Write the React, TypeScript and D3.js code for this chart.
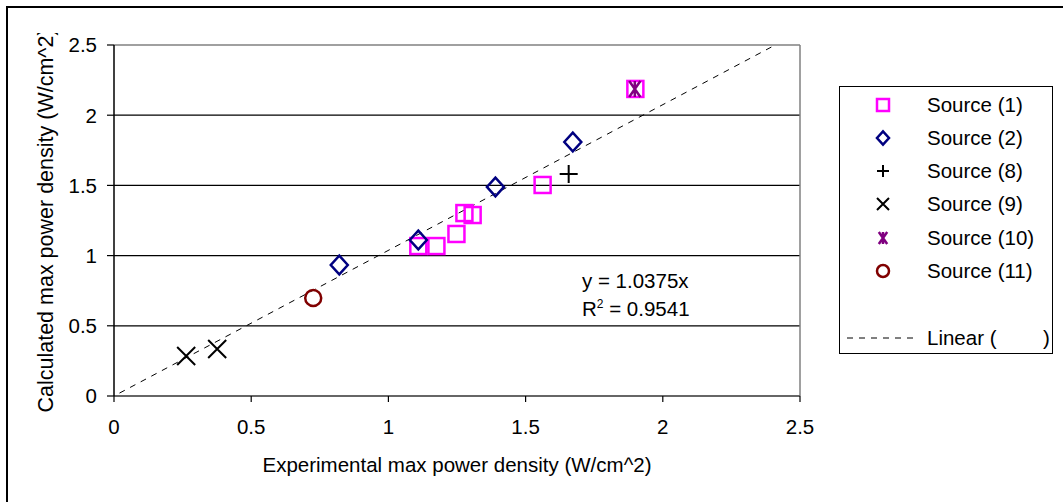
import React from "react";
import * as d3 from "d3";

const s1X = [1.9, 1.562, 1.277, 1.307, 1.248, 1.109, 1.175];
const s1Y = [2.187, 1.503, 1.303, 1.289, 1.154, 1.068, 1.068];
const s2X = [0.821, 1.109, 1.39, 1.672];
const s2Y = [0.933, 1.111, 1.489, 1.809];
const s8X = [1.657];
const s8Y = [1.581];
const s9X = [0.263, 0.376];
const s9Y = [0.285, 0.335];
const s10X = [1.898];
const s10Y = [2.187];
const s11X = [0.726];
const s11Y = [0.698];
const xTicks = [0, 0.5, 1, 1.5, 2, 2.5];
const yTicks = [0, 0.5, 1, 1.5, 2, 2.5];
const slope = 1.0375;
const legendLabels = ["Source (1)", "Source (2)", "Source (8)", "Source (9)", "Source (10)", "Source (11)"];

const FONT = "'Liberation Sans', Arial, sans-serif";
const FS = 20.5;
const W = 1063, H = 502;
const L = 114, R = 800, T = 45, B = 396;

type Kind = "square" | "diamond" | "plus" | "x" | "star" | "circle";

function Marker({ kind, cx, cy, s }: { kind: Kind; cx: number; cy: number; s: number }) {
  const h = s / 2;
  if (kind === "square")
    return <rect x={cx - h} y={cy - h} width={s} height={s} fill="none" stroke="#FF00FF" strokeWidth={2.5} />;
  if (kind === "diamond")
    return (
      <path
        d={`M${cx},${cy - h * 1.1}L${cx + h},${cy}L${cx},${cy + h * 1.1}L${cx - h},${cy}Z`}
        fill="none"
        stroke="#000080"
        strokeWidth={2.5}
      />
    );
  if (kind === "plus")
    return (
      <path d={`M${cx - h},${cy}H${cx + h}M${cx},${cy - h}V${cy + h}`} stroke="#000" strokeWidth={2} fill="none" />
    );
  if (kind === "x")
    return (
      <path
        d={`M${cx - h},${cy - h}L${cx + h},${cy + h}M${cx + h},${cy - h}L${cx - h},${cy + h}`}
        stroke="#000"
        strokeWidth={2}
        fill="none"
      />
    );
  if (kind === "star")
    return (
      <path
        d={`M${cx - h * 0.7},${cy - h}L${cx + h * 0.7},${cy + h}M${cx + h * 0.7},${cy - h}L${cx - h * 0.7},${cy + h}M${cx},${cy - h}V${cy + h}`}
        stroke="#800080"
        strokeWidth={2.5}
        fill="none"
      />
    );
  return <circle cx={cx} cy={cy} r={h} fill="none" stroke="#800000" strokeWidth={2.5} />;
}

export default function App() {
  const x = d3.scaleLinear().domain([0, 2.5]).range([L, R]);
  const y = d3.scaleLinear().domain([0, 2.5]).range([B, T]);

  const series: { kind: Kind; xs: number[]; ys: number[]; size: number }[] = [
    { kind: "square", xs: s1X, ys: s1Y, size: 16 },
    { kind: "diamond", xs: s2X, ys: s2Y, size: 17 },
    { kind: "plus", xs: s8X, ys: s8Y, size: 18 },
    { kind: "x", xs: s9X, ys: s9Y, size: 18 },
    { kind: "star", xs: s10X, ys: s10Y, size: 16 },
    { kind: "circle", xs: s11X, ys: s11Y, size: 16 },
  ];

  const trend = d3.line<number>()
    .x((d) => x(d))
    .y((d) => y(d * slope));
  const trendPts = [0.02, 2.5 / slope];

  const legendRows = [105, 138, 171, 204, 238, 271];

  return (
    <svg
      width={W}
      height={H}
      style={{ position: "fixed", left: 0, top: 0, background: "#fff" }}
      fontFamily={FONT}
    >
      <defs>
        <clipPath id="plotclip">
          <rect x={L} y={T} width={R - L} height={B - T} />
        </clipPath>
        <clipPath id="ytclip">
          <rect x={0} y={33} width={200} height={480} />
        </clipPath>
      </defs>
      <rect x={0} y={0} width={W} height={H} fill="#fff" />
      <rect x={7} y={7} width={1200} height={700} fill="none" stroke="#000" strokeWidth={2} />

      {yTicks.slice(1, -1).map((t) => (
        <line key={t} x1={L} x2={R} y1={y(t)} y2={y(t)} stroke="#000" strokeWidth={1.2} />
      ))}
      <line x1={L} x2={R} y1={T} y2={T} stroke="#808080" strokeWidth={1.5} />
      <line x1={R} x2={R} y1={T} y2={B} stroke="#808080" strokeWidth={1.5} />
      <line x1={L} x2={R} y1={B} y2={B} stroke="#666" strokeWidth={2} />
      <line x1={L} x2={L} y1={T} y2={B} stroke="#000" strokeWidth={1.5} />
      {yTicks.map((t) => (
        <g key={t}>
          <line x1={L - 7} x2={L} y1={y(t)} y2={y(t)} stroke="#000" strokeWidth={1.2} />
          <text x={97} y={y(t)} dy="0.36em" textAnchor="end" fontSize={FS}>
            {t}
          </text>
        </g>
      ))}
      {xTicks.map((t) => (
        <g key={t}>
          <line x1={x(t)} x2={x(t)} y1={B} y2={B + 6} stroke="#000" strokeWidth={1.2} />
          <text x={x(t)} y={434} textAnchor="middle" fontSize={FS}>
            {t}
          </text>
        </g>
      ))}

      <text x={(L + R) / 2} y={472} textAnchor="middle" fontSize={FS}>
        Experimental max power density (W/cm^2)
      </text>
      <g clipPath="url(#ytclip)">
        <text transform={`translate(53,220.5) rotate(-90)`} textAnchor="middle" fontSize={21.5}>
          Calculated max power density (W/cm^2)
        </text>
      </g>

      <g clipPath="url(#plotclip)">
        <path d={trend(trendPts) || ""} fill="none" stroke="#000" strokeWidth={1} strokeDasharray="6,6" />
      </g>

      {series.map((s) =>
        s.xs.map((v, i) => <Marker key={s.kind + i} kind={s.kind} cx={x(v)} cy={y(s.ys[i])} s={s.size} />)
      )}

      <text x={582} y={288} fontSize={FS}>
        y = 1.0375x
      </text>
      <text x={582} y={316} fontSize={FS}>
        R<tspan dy={-8} fontSize={12}>2</tspan>
        <tspan dy={8}> = 0.9541</tspan>
      </text>

      <rect x={839.5} y={86.5} width={213} height={267} fill="#fff" stroke="#000" strokeWidth={1} />
      {series.map((s, i) => (
        <g key={s.kind}>
          <Marker kind={s.kind} cx={883} cy={legendRows[i]} s={12} />
          <text x={927} y={legendRows[i]} dy="0.36em" fontSize={FS}>
            {legendLabels[i]}
          </text>
        </g>
      ))}
      <line x1={847} x2={915} y1={338} y2={338} stroke="#000" strokeWidth={1} strokeDasharray="6,6" />
      <text x={927} y={338} dy="0.36em" fontSize={FS}>
        Linear (
      </text>
      <text x={1043} y={338} dy="0.36em" fontSize={FS}>
        )
      </text>
    </svg>
  );
}
